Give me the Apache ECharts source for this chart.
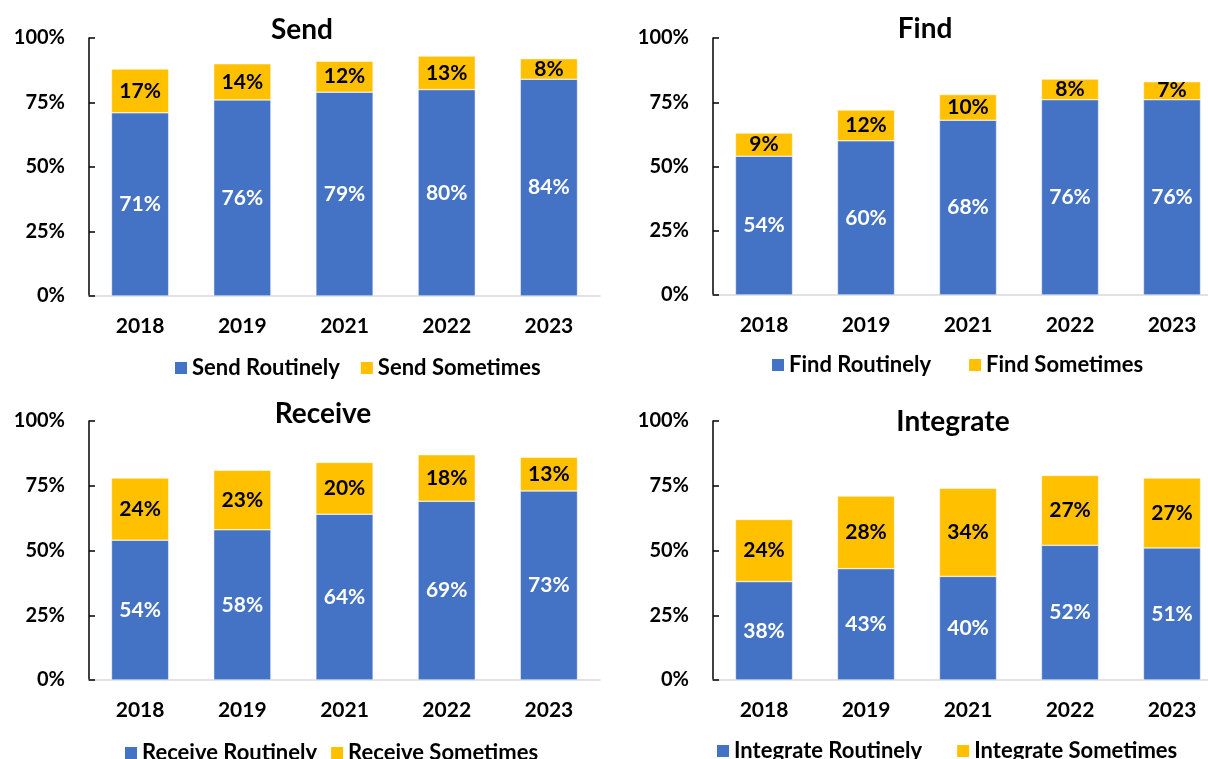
<!DOCTYPE html>
<html>
<head>
<meta charset="utf-8">
<script src="https://cdn.jsdelivr.net/npm/echarts@6/dist/echarts.min.js"></script>
<style>
  html, body { margin: 0; padding: 0; background: #fff; overflow: hidden; }
  /* a little wider than the window: the right-hand panels run past the edge */
  #chart { width: 1224px; height: 759px; }
</style>
</head>
<body>
<div id="chart"></div>
<script>
// data
const years = ['2018', '2019', '2021', '2022', '2023'];
const yTicks = [0, 25, 50, 75, 100];

const sendRoutinely = [71, 76, 79, 80, 84];
const sendSometimes = [17, 14, 12, 13, 8];
const findRoutinely = [54, 60, 68, 76, 76];
const findSometimes = [9, 12, 10, 8, 7];
const receiveRoutinely = [54, 58, 64, 69, 73];
const receiveSometimes = [24, 23, 20, 18, 13];
const integrateRoutinely = [38, 43, 40, 52, 51];
const integrateSometimes = [24, 28, 34, 27, 27];

const BLUE = '#4472C4';
const GOLD = '#FFC000';
const FONT = 'Lato';

// one entry per panel: name, data, grid box, title pos, legend pos
const panels = [
  { name: 'Send', routinely: sendRoutinely, sometimes: sendSometimes,
    grid: { left: 89, top: 38, width: 511, height: 258 },
    title: { x: 297, y: 11 }, legend: { x: 168, y: 352, gap: 19 } },
  { name: 'Find', routinely: findRoutinely, sometimes: findSometimes,
    grid: { left: 713, top: 38, width: 510, height: 257 },
    title: { x: 920, y: 10 }, legend: { x: 765, y: 349, gap: 36 } },
  { name: 'Receive', routinely: receiveRoutinely, sometimes: receiveSometimes,
    grid: { left: 89, top: 421, width: 511, height: 259 },
    title: { x: 318, y: 395 }, legend: { x: 118, y: 737, gap: 12 } },
  { name: 'Integrate', routinely: integrateRoutinely, sometimes: integrateSometimes,
    grid: { left: 713, top: 421, width: 510, height: 259 },
    title: { x: 948, y: 403 }, legend: { x: 710, y: 735, gap: 33 } }
];

const option = {
  animation: false,
  backgroundColor: '#fff',
  textStyle: { fontFamily: FONT },
  title: [], grid: [], xAxis: [], yAxis: [], legend: [], series: []
};

panels.forEach((p, i) => {
  option.title.push({
    text: p.name, left: p.title.x, top: p.title.y, textAlign: 'center',
    textStyle: { fontFamily: FONT, fontWeight: 'bold', fontSize: 28, color: '#000' }
  });
  option.grid.push(p.grid);
  option.xAxis.push({
    type: 'category', gridIndex: i, data: years,
    axisLine: { lineStyle: { color: '#D9D9D9', width: 1.5 } },
    axisTick: { show: false },
    axisLabel: { fontFamily: FONT, fontWeight: 'bold', fontSize: 21, color: '#000', margin: 20 }
  });
  option.yAxis.push({
    type: 'value', gridIndex: i, min: yTicks[0], max: yTicks[yTicks.length - 1], interval: 25,
    axisLine: { show: true, lineStyle: { color: '#000', width: 1.5 } },
    axisTick: { show: true, inside: true, length: 6, lineStyle: { color: '#000', width: 1.5 } },
    splitLine: { show: false },
    axisLabel: { fontFamily: FONT, fontWeight: 'bold', fontSize: 20, color: '#000', margin: 24,
      formatter: '{value}%' }
  });
  const rName = p.name + ' Routinely';
  const sName = p.name + ' Sometimes';
  option.legend.push({
    data: [rName, sName], left: p.legend.x, top: p.legend.y,
    itemWidth: 14, itemHeight: 14, itemGap: p.legend.gap, icon: 'rect',
    textStyle: { fontFamily: FONT, fontWeight: 'bold', fontSize: 22, color: '#000', padding: [0, 0, 0, -1] }
  });
  option.series.push({
    name: rName, type: 'bar', stack: 'p' + i, xAxisIndex: i, yAxisIndex: i,
    data: p.routinely, barWidth: '56%',
    itemStyle: { color: BLUE, borderColor: '#fff', borderWidth: 0.5 },
    label: { show: true, position: 'inside', formatter: '{c}%', color: '#fff',
      fontFamily: FONT, fontWeight: 'bold', fontSize: 21 }
  });
  option.series.push({
    name: sName, type: 'bar', stack: 'p' + i, xAxisIndex: i, yAxisIndex: i,
    data: p.sometimes, barWidth: '56%',
    itemStyle: { color: GOLD, borderColor: '#fff', borderWidth: 0.5 },
    label: { show: true, position: 'inside', formatter: '{c}%', color: '#000',
      fontFamily: FONT, fontWeight: 'bold', fontSize: 21 }
  });
});

const chart = echarts.init(document.getElementById('chart'), null, { renderer: 'canvas' });
chart.setOption(option);
</script>
</body>
</html>
